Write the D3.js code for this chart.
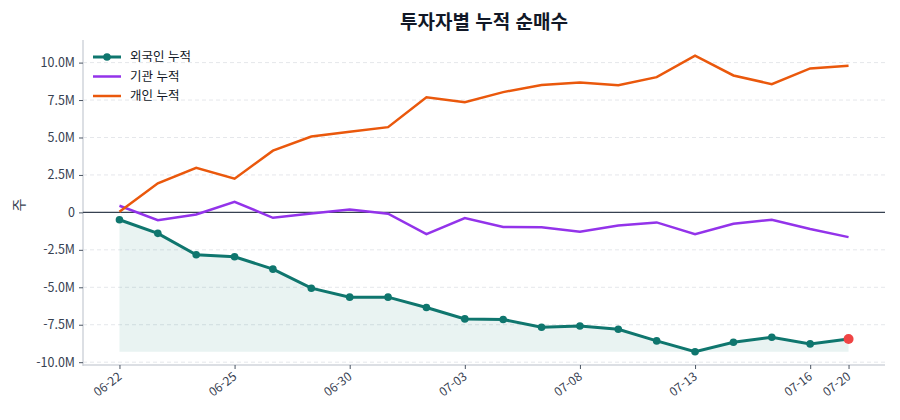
<!DOCTYPE html>
<html lang="ko">
<head>
<meta charset="utf-8">
<title>투자자별 누적 순매수</title>
<script src="https://cdn.jsdelivr.net/npm/d3@7"></script>
<style>
  body { margin: 0; background: #fff; font-family: "Noto Sans CJK KR", "Noto Sans", sans-serif; }
</style>
</head>
<body>
<svg id="chart" width="900" height="420"></svg>
<script>
// 날짜 (거래일)
var dates = ["06-22","06-23","06-24","06-25","06-26","06-29","06-30","07-01","07-02","07-03",
             "07-06","07-07","07-08","07-09","07-10","07-13","07-14","07-15","07-16","07-20"];
// 누적 순매수 (백만 주)
var foreign = [-0.49,-1.40,-2.83,-2.96,-3.79,-5.06,-5.66,-5.66,-6.35,-7.11,
               -7.15,-7.67,-7.58,-7.80,-8.58,-9.30,-8.67,-8.34,-8.78,-8.45];
var institution = [0.44,-0.52,-0.14,0.71,-0.36,-0.07,0.20,-0.09,-1.45,-0.38,
                   -0.98,-1.00,-1.29,-0.87,-0.67,-1.45,-0.76,-0.49,-1.11,-1.65];
var individual = [0.04,1.94,2.98,2.25,4.12,5.06,5.39,5.69,7.69,7.36,
                  8.03,8.51,8.67,8.49,9.03,10.47,9.14,8.56,9.61,9.79];
var tickIdx = [0,3,6,9,12,15,18,19];
var yTicks = [-10,-7.5,-5,-2.5,0,2.5,5,7.5,10];

var svg = d3.select("#chart"),
    margin = {left: 83, right: 885, top: 40, bottom: 365};

var n = dates.length;
var x = d3.scaleLinear().domain([-0.05*(n-1), (n-1)*1.05]).range([margin.left, margin.right]);
var all = foreign.concat(institution, individual);
var lo = d3.min(all), hi = d3.max(all), pad = (hi - lo)*0.05;
var y = d3.scaleLinear().domain([lo - pad + 0.1, hi + pad + 0.05]).range([margin.bottom, margin.top]);

var fmt = v => v === 0 ? "0" : v.toFixed(1) + "M";

// grid
svg.append("g").selectAll("line").data(yTicks).enter().append("line")
  .attr("x1", margin.left).attr("x2", margin.right)
  .attr("y1", d => y(d)).attr("y2", d => y(d))
  .attr("stroke", "#e5e7eb").attr("stroke-width", 1)
  .attr("stroke-dasharray", "4,3");

// axes
var yAxis = svg.append("g").attr("transform", `translate(${margin.left},0)`)
  .call(d3.axisLeft(y).tickValues(yTicks).tickFormat(fmt).tickSize(4).tickPadding(4));
var xAxis = svg.append("g").attr("transform", `translate(0,${margin.bottom})`)
  .call(d3.axisBottom(x).tickValues(tickIdx).tickFormat(i => dates[i]).tickSize(4).tickPadding(5));

[yAxis, xAxis].forEach(function(a) {
  a.select(".domain").attr("stroke", "#d1d5db").attr("stroke-width", 1.5);
  a.selectAll(".tick line").attr("stroke", "#4b5563");
  a.selectAll("text").attr("fill", "#374151").style("font-size", "12.5px")
    .style("font-family", "'Noto Sans CJK KR', 'Noto Sans', sans-serif");
});
yAxis.select(".domain").attr("d", `M0,${margin.top}V${margin.bottom + 1}`);
xAxis.select(".domain").attr("d", `M${margin.left},0H${margin.right}`);
xAxis.selectAll("text").style("font-size", "12px")
  .attr("text-anchor", "end")
  .attr("x", 0).attr("y", 0).attr("dy", "0.35em")
  .attr("transform", "translate(0,10) rotate(-37)");

// zero line
svg.append("line")
  .attr("x1", margin.left).attr("x2", margin.right)
  .attr("y1", y(0)).attr("y2", y(0))
  .attr("stroke", "#374151").attr("stroke-width", 1.3);

// foreign area
var base = d3.min(foreign);
svg.append("path").datum(foreign)
  .attr("fill", "#0f766e").attr("fill-opacity", 0.09)
  .attr("d", d3.area().x((d, i) => x(i)).y0(y(base)).y1(d => y(d)));

var line = d3.line().x((d, i) => x(i)).y(d => y(d));

svg.append("path").datum(institution)
  .attr("fill", "none").attr("stroke", "#9333ea").attr("stroke-width", 2.5)
  .attr("d", line);
svg.append("path").datum(individual)
  .attr("fill", "none").attr("stroke", "#ea580c").attr("stroke-width", 2.5)
  .attr("d", line);
svg.append("path").datum(foreign)
  .attr("fill", "none").attr("stroke", "#0f766e").attr("stroke-width", 3)
  .attr("d", line);

svg.append("g").selectAll("circle").data(foreign.slice(0, n - 1)).enter().append("circle")
  .attr("cx", (d, i) => x(i)).attr("cy", d => y(d)).attr("r", 3.8)
  .attr("fill", "#0f766e");
svg.append("circle")
  .attr("cx", x(n - 1)).attr("cy", y(foreign[n - 1])).attr("r", 5)
  .attr("fill", "#ef4444");

// title
svg.append("text")
  .attr("x", (margin.left + margin.right) / 2).attr("y", 29)
  .attr("text-anchor", "middle")
  .style("font-size", "19px").style("font-weight", "bold")
  .attr("fill", "#111827")
  .text("투자자별 누적 순매수");

// y label
svg.append("text")
  .attr("transform", "translate(24,205) rotate(-90)")
  .attr("text-anchor", "middle")
  .style("font-size", "14px").attr("fill", "#374151")
  .text("주");

// legend
var legend = [
  {name: "외국인 누적", color: "#0f766e", w: 3, dot: true},
  {name: "기관 누적", color: "#9333ea", w: 2.5},
  {name: "개인 누적", color: "#ea580c", w: 2.5}
];
var lg = svg.append("g").selectAll("g").data(legend).enter().append("g")
  .attr("transform", (d, i) => `translate(93,${57 + i * 19.5})`);
lg.append("line").attr("x1", 0).attr("x2", 28)
  .attr("stroke", d => d.color).attr("stroke-width", d => d.w);
lg.filter(d => d.dot).append("circle").attr("cx", 14).attr("r", 3.8).attr("fill", d => d.color);
lg.append("text").attr("x", 37).attr("dy", "0.35em")
  .style("font-size", "12.5px").attr("fill", "#111827")
  .text(d => d.name);
</script>
</body>
</html>
